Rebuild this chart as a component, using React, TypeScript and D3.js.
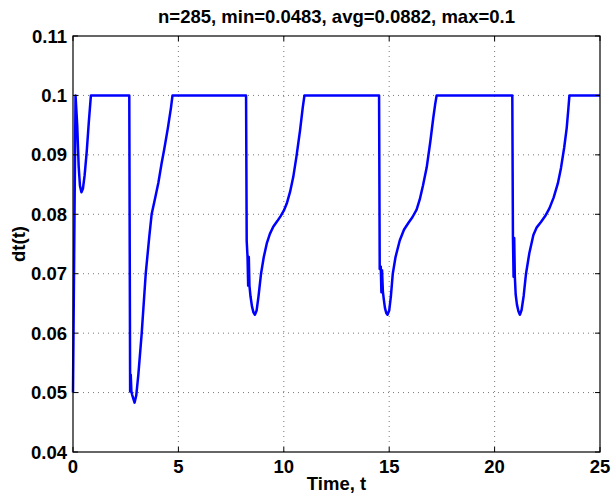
import React from 'react';
import * as d3 from 'd3';

const timeValues = [
  0, 0.12, 0.2, 0.27, 0.33, 0.4, 0.47, 0.55, 0.65, 0.75, 0.85,
  2.67, 2.71, 2.74, 2.77, 2.8, 2.86, 2.92, 3.0, 3.1, 3.26, 3.45, 3.62, 3.73, 3.9, 4.05, 4.2, 4.33, 4.5, 4.65, 4.72,
  8.21, 8.24, 8.28, 8.31, 8.34, 8.37, 8.42, 8.49, 8.56, 8.63, 8.71, 8.8, 8.92, 9.05, 9.2, 9.34, 9.5, 9.7, 9.85, 10.0, 10.14, 10.3, 10.45, 10.6, 10.77, 10.9, 10.98,
  14.52, 14.55, 14.6, 14.63, 14.66, 14.7, 14.75, 14.8, 14.86, 14.92, 15.0, 15.08, 15.17, 15.3, 15.5, 15.7, 15.9, 16.1, 16.3, 16.45, 16.6, 16.78, 16.95, 17.09, 17.18, 17.25,
  20.84, 20.87, 20.9, 20.93, 20.96, 21.0, 21.06, 21.13, 21.2, 21.28, 21.38, 21.49, 21.65, 21.84, 22.0, 22.2, 22.4, 22.6, 22.8, 23.0, 23.15, 23.3, 23.42, 23.5, 23.55, 25,
];

const dtValues = [
  0.05, 0.1, 0.095, 0.088, 0.0848, 0.0837, 0.0843, 0.0865, 0.0905, 0.0955, 0.1,
  0.1, 0.0502, 0.053, 0.0502, 0.0497, 0.049, 0.0483, 0.0495, 0.053, 0.06, 0.07, 0.0763, 0.08, 0.0828, 0.0853, 0.0885, 0.091, 0.0945, 0.098, 0.1,
  0.1, 0.0755, 0.0728, 0.068, 0.0728, 0.068, 0.0662, 0.0645, 0.0635, 0.0631, 0.0638, 0.0662, 0.07, 0.0728, 0.0752, 0.0767, 0.0779, 0.0789, 0.0797, 0.0806, 0.0818, 0.0838, 0.0863, 0.0897, 0.0941, 0.098, 0.1,
  0.1, 0.0708, 0.0712, 0.0669, 0.0706, 0.067, 0.0655, 0.0642, 0.0634, 0.0631, 0.0638, 0.0662, 0.07, 0.0728, 0.0756, 0.0774, 0.0785, 0.0795, 0.0808, 0.0825, 0.0848, 0.0879, 0.0922, 0.0962, 0.0985, 0.1,
  0.1, 0.0762, 0.0695, 0.076, 0.0695, 0.0665, 0.0648, 0.0637, 0.0631, 0.0639, 0.0663, 0.07, 0.0735, 0.0765, 0.0778, 0.0787, 0.0797, 0.081, 0.0828, 0.0852, 0.0878, 0.0912, 0.0945, 0.0978, 0.1, 0.1,
];

const xTicks = [0, 5, 10, 15, 20, 25];
const xTickLabels = ['0', '5', '10', '15', '20', '25'];
const yTicks = [0.04, 0.05, 0.06, 0.07, 0.08, 0.09, 0.1, 0.11];
const yTickLabels = ['0.04', '0.05', '0.06', '0.07', '0.08', '0.09', '0.1', '0.11'];
const titleText = 'n=285, min=0.0483, avg=0.0882, max=0.1';
const xLabelText = 'Time, t';
const yLabelText = 'dt(t)';

export default function App() {
  const W = 612;
  const H = 497;
  const left = 73, right = 600, top = 36, bottom = 452;
  const x = d3.scaleLinear().domain([0, 25]).range([left, right]);
  const y = d3.scaleLinear().domain([0.04, 0.11]).range([bottom, top]);
  const line = d3
    .line<number>()
    .x((_, i) => x(timeValues[i]))
    .y((d) => y(d));
  const font = "'Liberation Sans', Arial, Helvetica, sans-serif";
  const tickLen = 5;
  const fs = 18.5;

  return (
    <svg
      width={W}
      height={H}
      style={{ position: 'absolute', left: 0, top: 0, background: '#fff' }}
      fontFamily={font}
      fontWeight="bold"
    >
      <rect x={0} y={0} width={W} height={H} fill="#fff" />
      {xTicks.slice(1, -1).map((t) => (
        <line key={'gx' + t} x1={x(t)} x2={x(t)} y1={top} y2={bottom} stroke="#555" strokeWidth={0.8} strokeDasharray="1,4" />
      ))}
      {yTicks.slice(1, -1).map((t) => (
        <line key={'gy' + t} x1={left} x2={right} y1={y(t)} y2={y(t)} stroke="#555" strokeWidth={0.8} strokeDasharray="1,4" />
      ))}
      <path d={line(dtValues) || ''} fill="none" stroke="#0000ff" strokeWidth={2.5} strokeLinejoin="round" />
      <rect x={left} y={top} width={right - left} height={bottom - top} fill="none" stroke="#000" strokeWidth={1.2} />
      {xTicks.map((t) => (
        <g key={'tx' + t}>
          <line x1={x(t)} x2={x(t)} y1={bottom} y2={bottom - tickLen} stroke="#000" strokeWidth={1} />
          <line x1={x(t)} x2={x(t)} y1={top} y2={top + tickLen} stroke="#000" strokeWidth={1} />
        </g>
      ))}
      {yTicks.map((t) => (
        <g key={'ty' + t}>
          <line x1={left} x2={left + tickLen} y1={y(t)} y2={y(t)} stroke="#000" strokeWidth={1} />
          <line x1={right} x2={right - tickLen} y1={y(t)} y2={y(t)} stroke="#000" strokeWidth={1} />
        </g>
      ))}
      {xTicks.map((t, i) => (
        <text key={'lx' + t} x={x(t)} y={473} textAnchor="middle" fontSize={fs}>
          {xTickLabels[i]}
        </text>
      ))}
      {yTicks.map((t, i) => (
        <text key={'ly' + t} x={67} y={y(t) + 6.5} textAnchor="end" fontSize={fs}>
          {yTickLabels[i]}
        </text>
      ))}
      <text x={(left + right) / 2} y={23} textAnchor="middle" fontSize={fs}>
        {titleText}
      </text>
      <text x={(left + right) / 2} y={490} textAnchor="middle" fontSize={fs}>
        {xLabelText}
      </text>
      <text transform={`translate(25,${(top + bottom) / 2}) rotate(-90)`} textAnchor="middle" fontSize={fs}>
        {yLabelText}
      </text>
    </svg>
  );
}
